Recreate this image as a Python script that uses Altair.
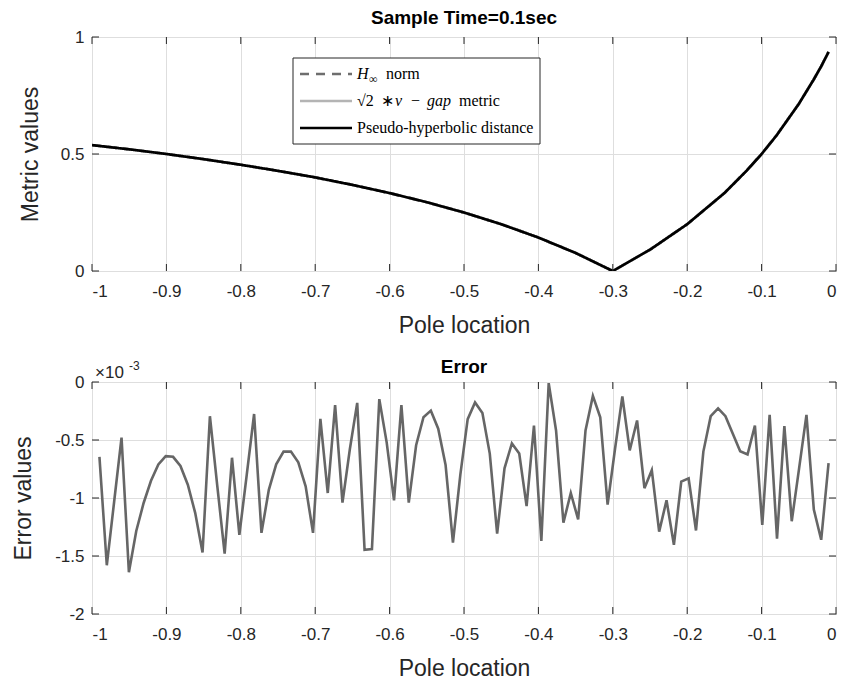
import altair as alt
import numpy as np
import pandas as pd

# ---------------- data ----------------
# top panel (metric values vs pole location)
pole_top = [-1.00, -0.95, -0.90, -0.85, -0.80, -0.75, -0.70, -0.65, -0.60, -0.55,
            -0.50, -0.45, -0.40, -0.35, -0.30, -0.25, -0.20, -0.15, -0.12, -0.10,
            -0.08, -0.05, -0.03, -0.02, -0.01]
pseudo_hyp = [0.538, 0.520, 0.500, 0.478, 0.454, 0.428, 0.400, 0.368, 0.333, 0.294,
              0.250, 0.200, 0.143, 0.077, 0.000, 0.091, 0.200, 0.333, 0.429, 0.500,
              0.579, 0.714, 0.818, 0.874, 0.936]
hinf_norm = list(pseudo_hyp)   # visually identical (hidden under the black line)
nu_gap = list(pseudo_hyp)

series_names = ["H\u221e norm", "\u221a2 \u2217 \u03bd \u2212 gap metric", "Pseudo-hyperbolic distance"]
series_colors = ["#6e6e6e", "#b4b4b4", "#000000"]
series_dash = [[9, 7], [1, 0], [1, 0]]
series_values = [hinf_norm, nu_gap, pseudo_hyp]

# bottom panel (error, x10^-3)
pole_err = np.linspace(-0.99, -0.01, 100)
err_values = [
    -0.645, -1.58, -1.03, -0.48, -1.64, -1.284, -1.043, -0.852, -0.71, -0.639,
    -0.645, -0.724, -0.886, -1.128, -1.47, -0.295, -0.895, -1.48, -0.653, -1.318,
    -0.80, -0.276, -1.30, -0.93, -0.71, -0.60, -0.60, -0.693, -0.90, -1.30,
    -0.318, -0.957, -0.20, -1.04, -0.58, -0.18, -1.446, -1.44, -0.148, -0.52,
    -1.02, -0.20, -1.04, -0.545, -0.304, -0.247, -0.403, -0.716, -1.384, -0.80,
    -0.32, -0.176, -0.267, -0.617, -1.307, -0.744, -0.53, -0.617, -1.07, -0.375,
    -1.37, -0.01, -0.418, -1.213, -0.957, -1.185, -0.418, -0.12, -0.304, -1.057,
    -0.58, -0.125, -0.59, -0.332, -0.915, -0.76, -1.29, -1.02, -1.403, -0.858,
    -0.83, -1.28, -0.60, -0.295, -0.227, -0.295, -0.446, -0.597, -0.625, -0.375,
    -1.233, -0.284, -1.35, -0.38, -1.20, -0.745, -0.284, -1.10, -1.36, -0.70,
]

x_ticks = [-1, -0.9, -0.8, -0.7, -0.6, -0.5, -0.4, -0.3, -0.2, -0.1, 0]
y_ticks_top = [0, 0.5, 1]
y_ticks_err = [0, -0.5, -1, -1.5, -2]
top_title = "Sample Time=0.1sec"
bottom_title = "Error"
exp_base = "\u00d710"
exp_power = "-3"

# legend text pieces: (text, x offset, font size, italic, subscript shift)
legend_rows = [
    [("H", 0, 16, True, 0), ("\u221e", 12, 12, False, 4), ("norm", 29, 16, False, 0)],
    [("\u221a2", 0, 16, False, 0), ("\u2217", 24, 16, False, 0), ("\u03bd", 38, 16, True, 0),
     ("\u2212", 54, 16, False, 0), ("gap", 70, 16, True, 0), ("metric", 102, 16, False, 0)],
    [("Pseudo-hyperbolic distance", 0, 16, False, 0)],
]

# ---------------- layout constants ----------------
W = 744
H_TOP = 234
H_BOT = 232
TICK = 7
FRAME = "#262626"
LABEL_FONT = "Liberation Sans"
SERIF = "Liberation Serif"
LEG_X0, LEG_X1, LEG_Y0, LEG_Y1 = 201, 448, 21, 107
LEG_ROWS_Y = [37, 64, 91]
LEG_SYM_X0, LEG_SYM_X1, LEG_TXT_X = 208, 260, 265

one = pd.DataFrame({"a": [0]})


def x_axis():
    return alt.Axis(values=x_ticks, title="Pole location", labelExpr="'' + datum.value",
                    labelPadding=12, titlePadding=15, grid=True)


xscale = alt.Scale(domain=[-1, 0], nice=False, zero=False)


def inner_ticks(height, yfield, yvals):
    xt = pd.DataFrame({"pole": x_ticks})
    yt = pd.DataFrame({yfield: yvals})
    r1 = alt.Chart(xt).mark_rule(color=FRAME, strokeWidth=1).encode(
        x=alt.X("pole:Q"), y=alt.value(0), y2=alt.value(TICK))
    r2 = alt.Chart(xt).mark_rule(color=FRAME, strokeWidth=1).encode(
        x=alt.X("pole:Q"), y=alt.value(height - TICK), y2=alt.value(height))
    r3 = alt.Chart(yt).mark_rule(color=FRAME, strokeWidth=1).encode(
        y=alt.Y(f"{yfield}:Q"), x=alt.value(0), x2=alt.value(TICK))
    r4 = alt.Chart(yt).mark_rule(color=FRAME, strokeWidth=1).encode(
        y=alt.Y(f"{yfield}:Q"), x=alt.value(W - TICK), x2=alt.value(W))
    return [r1, r2, r3, r4]


# ---------- top panel ----------
top_layers = []
for name, col, dash, vals in zip(series_names, series_colors, series_dash, series_values):
    df = pd.DataFrame({"pole": pole_top, "value": vals})
    top_layers.append(
        alt.Chart(df).mark_line(strokeWidth=2.7, color=col, strokeDash=dash, clip=True)
        .encode(
            x=alt.X("pole:Q", scale=xscale, axis=x_axis()),
            y=alt.Y("value:Q", scale=alt.Scale(domain=[0, 1], nice=False),
                    axis=alt.Axis(values=y_ticks_top, title="Metric values",
                                  labelExpr="'' + datum.value", labelPadding=8,
                                  titlePadding=18, grid=True)),
        )
    )

legend_layers = [
    alt.Chart(one).mark_rect(fill="white", stroke=FRAME, strokeWidth=1).encode(
        x=alt.value(LEG_X0), x2=alt.value(LEG_X1), y=alt.value(LEG_Y0), y2=alt.value(LEG_Y1))
]
for ry, col, dash in zip(LEG_ROWS_Y, series_colors, series_dash):
    legend_layers.append(
        alt.Chart(one).mark_rule(color=col, strokeWidth=2.6, strokeDash=dash).encode(
            x=alt.value(LEG_SYM_X0), x2=alt.value(LEG_SYM_X1), y=alt.value(ry))
    )
for ry, pieces in zip(LEG_ROWS_Y, legend_rows):
    for txt, dx, fs, ital, sub in pieces:
        legend_layers.append(
            alt.Chart(one).mark_text(
                align="left", baseline="alphabetic", font=SERIF, fontSize=fs,
                fontStyle="italic" if ital else "normal", color="black"
            ).encode(x=alt.value(LEG_TXT_X + dx), y=alt.value(ry + 5 + sub), text=alt.value(txt))
        )

top = alt.layer(*top_layers, *inner_ticks(H_TOP, "value", y_ticks_top), *legend_layers).properties(
    width=W, height=H_TOP,
    title=alt.Title(top_title, offset=0),
)

# ---------- bottom panel ----------
err_df = pd.DataFrame({"pole": pole_err, "err": err_values})
err_line = alt.Chart(err_df).mark_line(color="#666666", strokeWidth=2.6).encode(
    x=alt.X("pole:Q", scale=xscale, axis=x_axis()),
    y=alt.Y("err:Q", scale=alt.Scale(domain=[-2, 0], nice=False),
            axis=alt.Axis(values=y_ticks_err, title="Error values",
                          labelExpr="'' + datum.value", labelPadding=8,
                          titlePadding=19, grid=True)),
)

err_title = alt.Chart(one).mark_text(
    align="center", baseline="alphabetic", font=LABEL_FONT, fontSize=19, fontWeight="bold",
    color="black"
).encode(x=alt.value(W / 2), y=alt.value(-9), text=alt.value(bottom_title))
exp1 = alt.Chart(one).mark_text(
    align="left", baseline="alphabetic", font=LABEL_FONT, fontSize=17, color=FRAME
).encode(x=alt.value(3), y=alt.value(-4), text=alt.value(exp_base))
exp2 = alt.Chart(one).mark_text(
    align="left", baseline="alphabetic", font=LABEL_FONT, fontSize=12, color=FRAME
).encode(x=alt.value(37), y=alt.value(-12), text=alt.value(exp_power))

bottom = alt.layer(err_line, *inner_ticks(H_BOT, "err", y_ticks_err), err_title, exp1, exp2).properties(
    width=W, height=H_BOT,
)

chart = alt.vconcat(top, bottom, spacing=19).properties(
    padding={"left": 4, "top": 0, "right": 0, "bottom": 0}
).configure_view(
    stroke=FRAME, strokeWidth=1
).configure_axis(
    domain=False, ticks=False,
    gridColor="#dedede", gridWidth=1,
    labelFont=LABEL_FONT, labelFontSize=17, labelColor=FRAME,
    titleFont=LABEL_FONT, titleFontSize=23, titleFontWeight="normal", titleColor=FRAME,
).configure_title(
    font=LABEL_FONT, fontSize=19, fontWeight="bold", color="black", anchor="middle",
)

chart.save("out.html", embed_options={"renderer": "svg", "actions": False})
